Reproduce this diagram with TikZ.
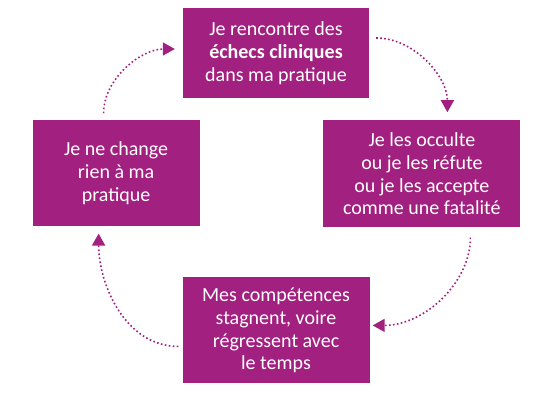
\documentclass[tikz,border=0pt]{standalone}
\usepackage{fontspec}
\setmainfont{Carlito}
\usetikzlibrary{arrows.meta,positioning}
\definecolor{cyclepurple}{HTML}{A2207F}

\begin{document}
\begin{tikzpicture}[
    box/.style={rectangle, fill=cyclepurple, text=white, align=center, inner sep=0pt, font=\fontsize{20}{22.8}\selectfont},
    arrow/.style={-{Triangle[length=12pt,width=13pt]}, draw=cyclepurple, line width=1.6pt, dash pattern=on 1.6pt off 2.4pt}
  ]
    \useasboundingbox (0,0) rectangle (553pt,-401pt);
    \node[box, minimum width=186pt, minimum height=90pt] (meet) at (276pt,-53pt) {Je rencontre des\\\textbf{échecs cliniques}\\dans ma pratique};
    \node[box, minimum width=197pt, minimum height=107pt, below right=22pt and -46pt of meet.south east] (hide) {Je les occulte\\ou je les réfute\\ou je les accepte\\comme une fatalité};
    \node[box, minimum width=187pt, minimum height=106pt, below=179pt of meet] (stall) {Mes compétences\\stagnent, voire\\régressent avec\\le temps};
    \node[box, minimum width=167pt, minimum height=106pt, below left=22pt and -17pt of meet.south west] (same) {Je ne change\\rien à ma\\pratique};
    \draw[arrow, shorten <=7pt, shorten >=8pt] ([yshift=15pt]meet.east) to[out=0, in=90] ([xshift=25.5pt]hide.north);
    \draw[arrow, shorten <=10pt, shorten >=3pt] ([xshift=48.5pt]hide.south) to[out=-90, in=0] ([yshift=5pt]stall.east);
    \draw[arrow, shorten <=4pt, shorten >=7pt] ([yshift=-16pt]stall.west) to[out=180, in=-90] ([xshift=-17.5pt]same.south);
    \draw[arrow, shorten <=7pt, shorten >=8pt] ([xshift=-12.5pt]same.north) to[out=90, in=180] ([yshift=4pt]meet.west);
  \end{tikzpicture}
\end{document}
